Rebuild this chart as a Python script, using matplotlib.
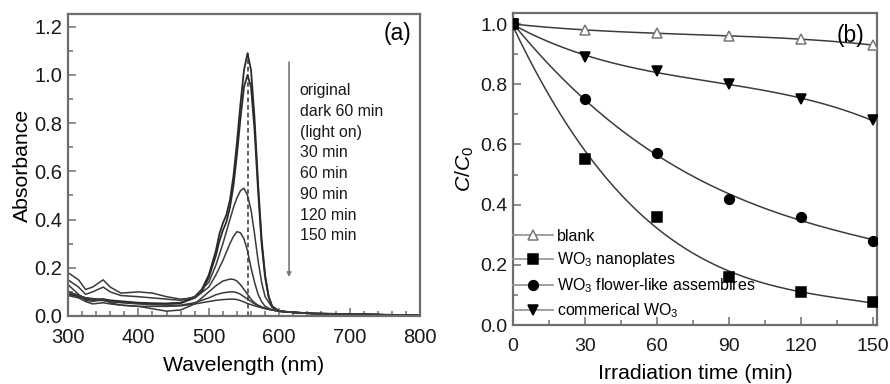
import numpy as np
import matplotlib
matplotlib.use("Agg")
import matplotlib.pyplot as plt
from matplotlib.ticker import MultipleLocator

plt.rcParams['font.family'] = ['Liberation Sans', 'DejaVu Sans']
plt.rcParams['mathtext.fontset'] = 'custom'
plt.rcParams['mathtext.rm'] = 'Liberation Sans'
plt.rcParams['mathtext.it'] = 'Liberation Sans:italic'

# ---- panel (a): UV-vis spectra ----
wl_orig = [300, 310, 325, 340, 350, 360, 380, 400, 420, 440, 460, 480, 490, 500, 510, 515, 520,
           525, 530, 535, 540, 545, 550, 555, 560, 565, 570, 575, 580, 585, 590, 600, 620, 650,
           700, 750, 800]
abs_orig = [0.10, 0.09, 0.075, 0.07, 0.07, 0.065, 0.06, 0.055, 0.053, 0.052, 0.055, 0.08, 0.11,
            0.17, 0.27, 0.34, 0.385, 0.42, 0.48, 0.58, 0.72, 0.88, 1.02, 1.09, 1.02, 0.82, 0.55,
            0.32, 0.17, 0.08, 0.04, 0.02, 0.015, 0.01, 0.008, 0.005, 0.003]
abs_dark = [0.09, 0.085, 0.07, 0.065, 0.065, 0.06, 0.057, 0.053, 0.05, 0.05, 0.053, 0.075, 0.10,
            0.16, 0.25, 0.31, 0.355, 0.39, 0.45, 0.54, 0.67, 0.82, 0.95, 1.0, 0.95, 0.77, 0.52,
            0.30, 0.16, 0.08, 0.04, 0.02, 0.015, 0.01, 0.008, 0.005, 0.003]

wl_deg = [300, 315, 325, 335, 350, 360, 375, 400, 420, 440, 460, 480, 500, 510, 520, 530, 535,
          540, 545, 550, 555, 560, 565, 570, 575, 580, 590, 600, 620, 650, 700, 750, 800]
abs_30 = [0.15, 0.12, 0.09, 0.10, 0.12, 0.10, 0.085, 0.08, 0.075, 0.07, 0.065, 0.08, 0.14, 0.21,
          0.30, 0.40, 0.45, 0.49, 0.52, 0.53, 0.50, 0.44, 0.34, 0.23, 0.14, 0.08, 0.035, 0.02,
          0.015, 0.01, 0.008, 0.005, 0.003]
abs_60 = [0.18, 0.15, 0.11, 0.12, 0.15, 0.12, 0.095, 0.10, 0.095, 0.08, 0.07, 0.075, 0.12, 0.17,
          0.23, 0.30, 0.33, 0.35, 0.345, 0.32, 0.27, 0.20, 0.14, 0.09, 0.06, 0.04, 0.025, 0.02,
          0.015, 0.01, 0.008, 0.005, 0.003]
abs_90 = [0.13, 0.09, 0.065, 0.06, 0.07, 0.055, 0.045, 0.04, 0.03, 0.02, 0.025, 0.05, 0.10, 0.125,
          0.145, 0.153, 0.152, 0.145, 0.13, 0.11, 0.09, 0.07, 0.055, 0.045, 0.038, 0.032, 0.025,
          0.02, 0.015, 0.01, 0.008, 0.005, 0.003]
abs_120 = [0.10, 0.085, 0.075, 0.07, 0.065, 0.06, 0.055, 0.05, 0.047, 0.045, 0.045, 0.055, 0.075,
           0.088, 0.096, 0.10, 0.10, 0.097, 0.09, 0.08, 0.07, 0.06, 0.05, 0.043, 0.037, 0.032,
           0.025, 0.02, 0.015, 0.01, 0.008, 0.005, 0.003]
abs_150 = [0.085, 0.075, 0.06, 0.05, 0.055, 0.05, 0.045, 0.04, 0.04, 0.04, 0.042, 0.05, 0.06,
           0.065, 0.068, 0.07, 0.07, 0.068, 0.064, 0.058, 0.052, 0.047, 0.042, 0.038, 0.034, 0.03,
           0.025, 0.02, 0.015, 0.01, 0.008, 0.005, 0.003]

legend_a = ["original", "dark 60 min", "(light on)", "30 min", "60 min", "90 min", "120 min", "150 min"]
peak_wl = 555
arrow_wl = 614

# ---- panel (b): degradation kinetics ----
time = [0, 30, 60, 90, 120, 150]
blank = [1.0, 0.98, 0.97, 0.96, 0.95, 0.93]
nanoplates = [1.0, 0.55, 0.36, 0.16, 0.11, 0.075]
flower = [1.0, 0.75, 0.57, 0.42, 0.36, 0.28]
commercial = [1.0, 0.89, 0.845, 0.80, 0.75, 0.68]

fig = plt.figure(figsize=(8.9, 3.84), dpi=100)
ax1 = fig.add_axes([0.0764, 0.1771, 0.3955, 0.7865])
ax2 = fig.add_axes([0.5764, 0.1536, 0.409, 0.8125])

spine_c = '#6e6e6e'

for a in (ax1, ax2):
    for s in a.spines.values():
        s.set_color(spine_c)
        s.set_linewidth(1.6)
    a.tick_params(which='both', direction='in', color=spine_c, width=1.1,
                  labelcolor='#1a1a1a', top=False, right=False)
    a.tick_params(which='major', length=6)
    a.tick_params(which='minor', length=3.5)

# panel a
ax1.plot(wl_orig, abs_orig, color='#2a2a2a', lw=1.3)
ax1.plot(wl_orig, abs_dark, color='#2a2a2a', lw=1.3)
for ys in (abs_30, abs_60, abs_90, abs_120, abs_150):
    ax1.plot(wl_deg, ys, color='#3a3a3a', lw=1.1)
ax1.plot([peak_wl, peak_wl], [0, max(abs_orig)], color='#333333', lw=1.1, ls=(0, (3, 2)))
ax1.annotate('', xy=(arrow_wl, 0.15), xytext=(arrow_wl, 1.065),
             arrowprops=dict(arrowstyle='-|>', color='#777777', lw=1.2, mutation_scale=6))
for i, t in enumerate(legend_a):
    ax1.text(629, 0.935 - 0.086 * i, t, fontsize=11.4, va='center', ha='left', color='#1a1a1a')
ax1.text(0.975, 0.935, '(a)', transform=ax1.transAxes, fontsize=16.5, ha='right', va='center')

ax1.set_xlim(300, 800)
ax1.set_ylim(0, 1.253)
ax1.xaxis.set_major_locator(MultipleLocator(100))
ax1.xaxis.set_minor_locator(MultipleLocator(20))
ax1.yaxis.set_major_locator(MultipleLocator(0.2))
ax1.yaxis.set_minor_locator(MultipleLocator(0.1))
ax1.yaxis.set_major_formatter(plt.FuncFormatter(lambda v, p: f'{v:.1f}'))
ax1.tick_params(axis='both', labelsize=14.5)
ax1.tick_params(axis='x', pad=9)
ax1.tick_params(axis='y', pad=4)
ax1.set_xlabel('Wavelength (nm)', fontsize=15.3, labelpad=6)
ax1.set_ylabel('Absorbance', fontsize=15.3, labelpad=2)

# panel b
tt = np.linspace(0, 150, 300)
series = [
    (blank, '^', 'white', 'blank'),
    (nanoplates, 's', 'black', 'WO$_3$ nanoplates'),
    (flower, 'o', 'black', 'WO$_3$ flower-like assembires'),
    (commercial, 'v', 'black', 'commerical WO$_3$'),
]
for ys, mk, fc, lab in series:
    coef = np.polyfit(time, ys, 3)
    ax2.plot(tt, np.polyval(coef, tt), color='#3c3c3c', lw=1.1, zorder=2)
    ec = '#777777' if fc == 'white' else 'black'
    ax2.plot(time, ys, ls='none', marker=mk, ms=7, mfc=fc, mec=ec, mew=1.1, zorder=3)
    ax2.plot([], [], color='#999999', lw=1.3, marker=mk, ms=7, mfc=fc, mec=ec, mew=1.1,
             label=lab)

leg = ax2.legend(loc='lower left', bbox_to_anchor=(-0.012, 0.0), frameon=False, fontsize=11.5,
                 handlelength=2.5, handletextpad=0.25, labelspacing=0.42, borderaxespad=0.0,
                 borderpad=0.3)
ax2.text(0.965, 0.965, '(b)', transform=ax2.transAxes, fontsize=16.5, ha='right', va='top')

ax2.set_xlim(0, 151.7)
ax2.set_ylim(0, 1.0365)
ax2.xaxis.set_major_locator(MultipleLocator(30))
ax2.xaxis.set_minor_locator(MultipleLocator(15))
ax2.yaxis.set_major_locator(MultipleLocator(0.2))
ax2.yaxis.set_minor_locator(MultipleLocator(0.1))
ax2.yaxis.set_major_formatter(plt.FuncFormatter(lambda v, p: f'{v:.1f}'))
ax2.tick_params(axis='both', labelsize=14)
ax2.tick_params(axis='x', pad=9)
ax2.tick_params(axis='y', pad=4)
ax2.set_xlabel('Irradiation time (min)', fontsize=15.3, labelpad=7)
ax2.set_ylabel('$C$/$C_0$', fontsize=15.3, labelpad=3)

fig.savefig('out.png', dpi=100)
